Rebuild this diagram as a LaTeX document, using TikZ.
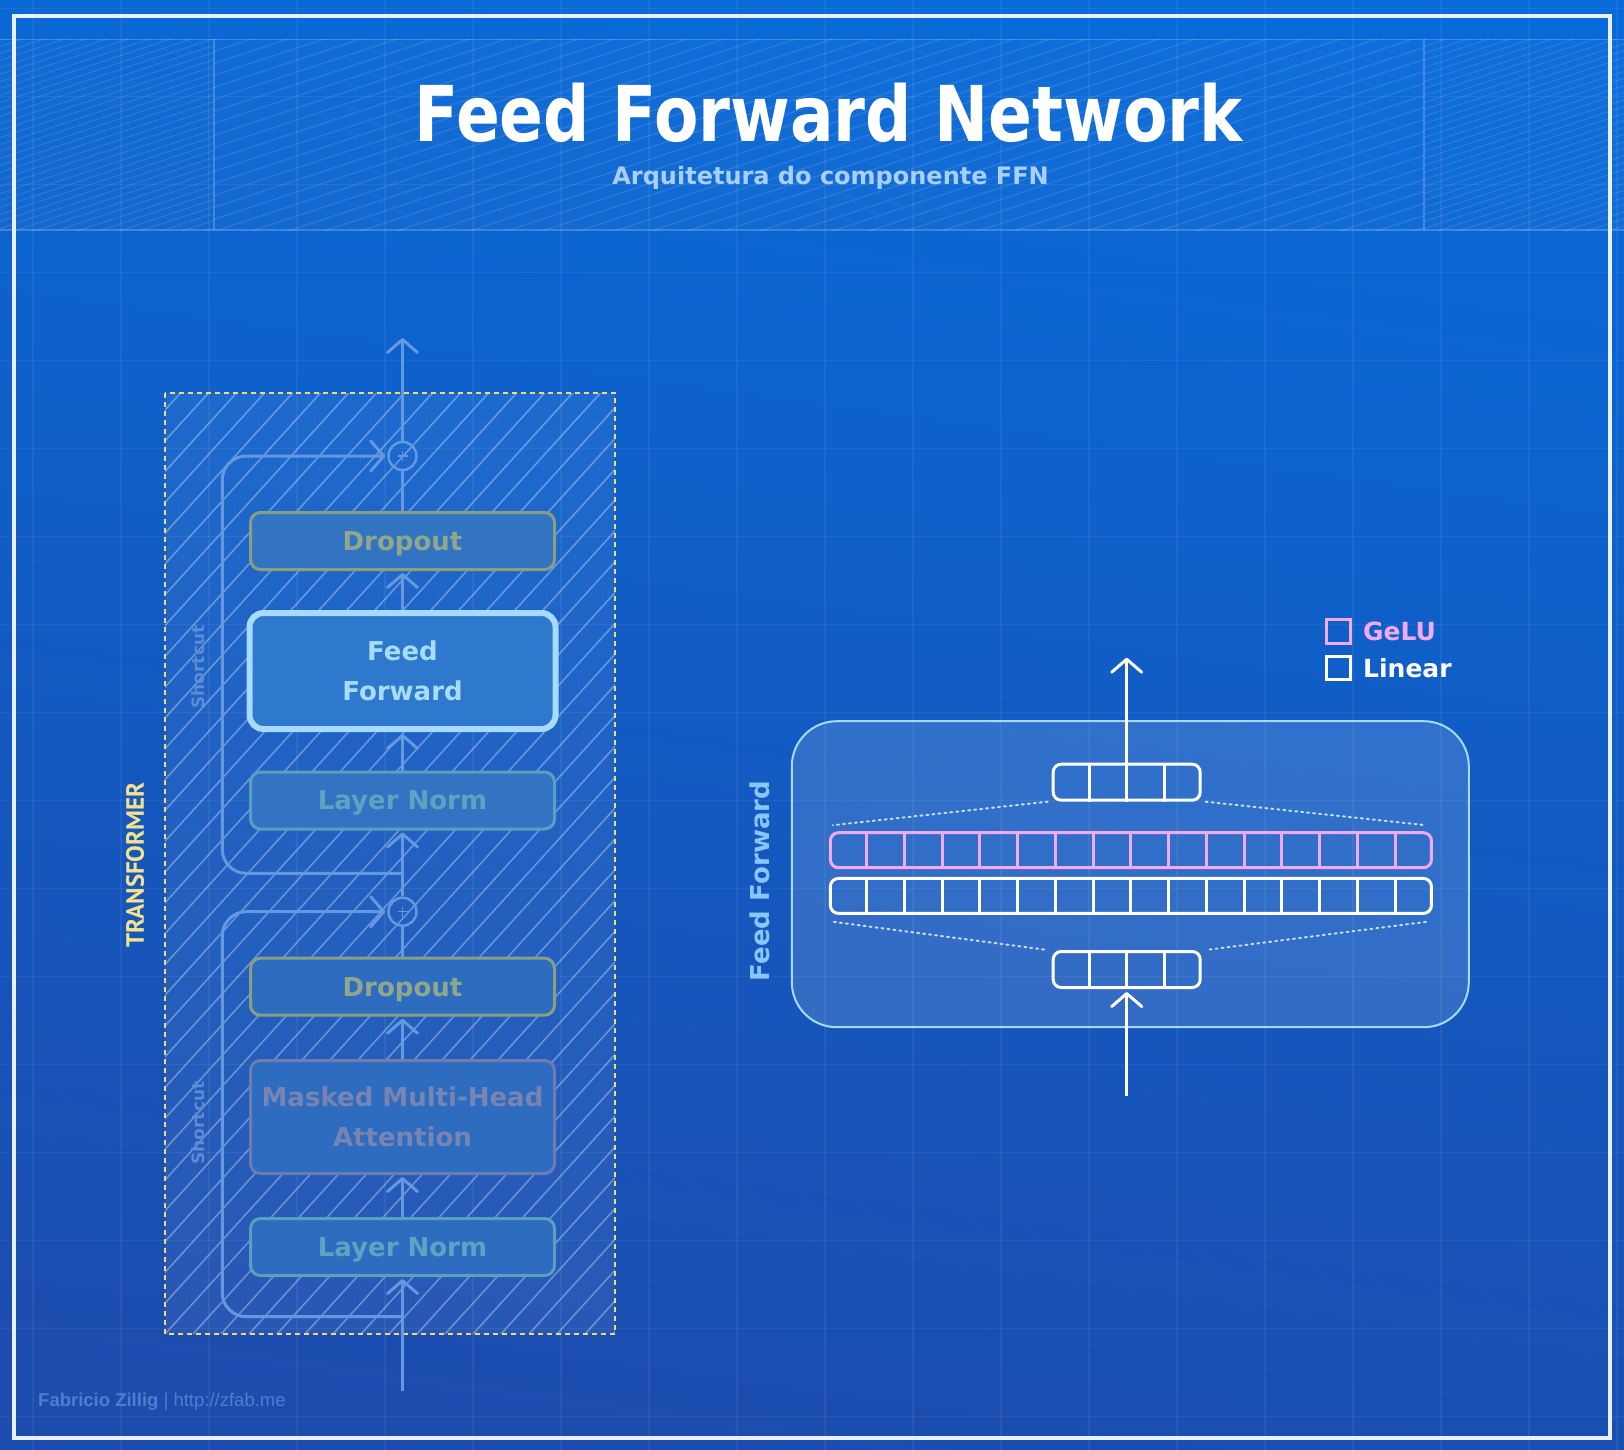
\documentclass[tikz,border=0pt]{standalone}
\usepackage{fontspec}
\usepackage{graphicx}
\usetikzlibrary{arrows.meta,calc}
\setmainfont{DejaVu Sans}
\newfontfamily\handfont{PT Sans}
\newfontfamily\signfont{Liberation Sans}

\definecolor{bgtop}{RGB}{8,106,216}
\definecolor{bgbot}{RGB}{28,76,174}
\definecolor{framecol}{RGB}{232,240,250}
\definecolor{tfyellow}{RGB}{242,220,110}
\definecolor{tflabel}{RGB}{245,224,140}
\definecolor{flowcol}{RGB}{100,152,224}
\definecolor{olivedraw}{RGB}{138,158,128}
\definecolor{olivetext}{RGB}{143,168,140}
\definecolor{tealdraw}{RGB}{90,158,192}
\definecolor{tealtext}{RGB}{95,163,194}
\definecolor{slatedraw}{RGB}{110,125,176}
\definecolor{slatetext}{RGB}{120,132,178}
\definecolor{skyblue}{RGB}{166,218,255}
\definecolor{fftext}{RGB}{168,220,255}
\definecolor{subblue}{RGB}{168,208,255}
\definecolor{labblue}{RGB}{136,198,255}
\definecolor{gelupink}{RGB}{242,170,245}
\definecolor{dotblue}{RGB}{200,222,255}
\definecolor{shortcol}{RGB}{92,140,214}
\definecolor{signcol}{RGB}{80,125,205}
\definecolor{fillup}{RGB}{50,116,194}
\definecolor{fillff}{RGB}{46,120,205}
\definecolor{filllow}{RGB}{46,108,192}

\tikzset{
  gridline/.style={draw=white, draw opacity=0.06, line width=1.5pt},
  headline/.style={draw=white, draw opacity=0.2, line width=1.5pt},
  hatchfine/.style={draw=white, draw opacity=0.11, line width=1.1pt},
  hatchwide/.style={draw=white, draw opacity=0.10, line width=1.4pt},
  hatchtf/.style={draw=white, draw opacity=0.33, line width=1.6pt},
  flowline/.style={draw=flowcol, line width=3pt},
  flowarrow/.style={flowline, -{Straight Barb[length=13pt,width=30pt,round]}, shorten >=2pt},
  layer/.style={draw, rounded corners=10pt, line width=3pt, minimum width=304pt,
    minimum height=57pt, inner sep=0pt, align=center, text depth=0pt,
    font=\fontsize{26}{40}\selectfont\bfseries},
  addnode/.style={circle, draw=flowcol, line width=2.5pt, minimum size=28pt, inner sep=0pt},
  vecbox/.style={draw=white, line width=3pt, rounded corners=8pt, minimum width=147pt,
    minimum height=36pt, inner sep=0pt},
  rowbox/.style={line width=3pt, rounded corners=8pt, minimum width=601pt,
    minimum height=35pt, inner sep=0pt},
  whitearrow/.style={draw=white, line width=3pt, -{Straight Barb[length=13pt,width=30pt,round]}},
  dotline/.style={draw=dotblue, line width=2pt, dash pattern=on 2pt off 4pt, line cap=round},
  legsq/.style={rectangle, line width=3pt, minimum size=23.5pt, inner sep=0pt},
  legtext/.style={anchor=west, inner sep=0pt, font=\fontsize{25}{28}\selectfont\bfseries},
  sidelabel/.style={rotate=90, inner sep=0pt},
}

\begin{document}
\begin{tikzpicture}[x=1pt, y=-1pt]
\useasboundingbox (0,0) rectangle (1624,1450);

% background and grid
\shade[top color=bgtop, bottom color=bgbot, shading angle=-8] (0,0) rectangle (1624,1450);
\foreach \i in {0,...,18} \draw[gridline] (33+88*\i,0) -- (33+88*\i,1450);
\foreach \j in {0,...,16} \draw[gridline] (0,8.7+88*\j) -- (1624,8.7+88*\j);

% header band
\fill[white, fill opacity=0.03] (0,39.5) rectangle (1624,230);
\begin{scope}
  \clip (0,39.5) rectangle (214,230);
  \foreach \i in {0,...,38} \draw[hatchfine] (0,39.5+\i*7) -- ++(214,-71);
\end{scope}
\begin{scope}
  \clip (1424,39.5) rectangle (1624,230);
  \foreach \i in {0,...,38} \draw[hatchfine] (1424,39.5+\i*7) -- ++(200,-66);
\end{scope}
\begin{scope}
  \clip (214,39.5) rectangle (1424,230);
  \foreach \i in {0,...,50} \draw[hatchwide] (214,39.5+\i*12) -- ++(1210,-400);
\end{scope}
\draw[headline] (0,39.5) -- (1624,39.5);
\draw[headline] (0,230) -- (1624,230);
\draw[headline] (214,39.5) -- (214,230);
\draw[headline] (1424,39.5) -- (1424,230);

% outer frame
\draw[framecol, line width=3.5pt] (14,16) rectangle (1610,1438);

% title block
\node[anchor=base, inner sep=0pt, text=white, font=\fontsize{77}{80}\selectfont\bfseries]
  (title) at (828.5,142) {\scalebox{0.84}[1]{Feed Forward Network}};
\node[anchor=base, inner sep=0pt, text=subblue, font=\fontsize{24}{28}\selectfont\bfseries]
  (subtitle) at (830.6,185) {Arquitetura do componente FFN};

% transformer block: tinted, hatched area with dashed border
\fill[white, fill opacity=0.06] (165,393) rectangle (615,1334);
\begin{scope}
  \clip (165,393) rectangle (615,1334);
  \foreach \i in {-31,...,16} \draw[hatchtf] (165+\i*28,1334) -- ++(900,-990);
\end{scope}
\draw[tfyellow, line width=2pt, dash pattern=on 5pt off 4pt] (165,393) rectangle (615,1334);
\node[sidelabel, text=tflabel, font=\handfont\fontsize{25}{28}\selectfont\bfseries] (tflab) at (135,865) {TRANSFORMER};

% layers
\node[layer, draw=tealdraw, fill=filllow, text=tealtext] (ln1) at (402.5,1247) {Layer Norm};
\node[layer, draw=slatedraw, fill=filllow, text=slatetext, minimum height=113pt] (mha) at (402.5,1117) {Masked Multi-Head\\Attention};
\node[layer, draw=olivedraw, fill=filllow, text=olivetext] (drop1) at (402.5,986.7) {Dropout};
\node[addnode] (add1) at (402.5,911.7) {};
\node[layer, draw=tealdraw, fill=fillup, text=tealtext] (ln2) at (402.5,800.5) {Layer Norm};
\node[layer, draw=skyblue, fill=fillff, text=fftext, line width=6pt, rounded corners=14pt,
  minimum width=306pt, minimum height=116pt] (ff) at (402.5,671) {Feed\\Forward};
\node[layer, draw=olivedraw, fill=fillup, text=olivetext] (drop2) at (402.5,541) {Dropout};
\node[addnode] (add2) at (402.5,456) {};

\foreach \a in {add1,add2} {
  \draw[flowcol, line width=1.5pt] ([xshift=-5pt]\a.center) -- ([xshift=5pt]\a.center);
  \draw[flowcol, line width=1.5pt] ([yshift=-5pt]\a.center) -- ([yshift=5pt]\a.center);
}

% main path through the block
\coordinate (inpt) at (402.5,1391);
\coordinate (outpt) at (402.5,336);
\coordinate (sc1) at (402.5,1316.7);
\coordinate (sc2) at (402.5,873.3);
\draw[flowarrow] (inpt) -- (ln1.south);
\draw[flowarrow] (ln1.north) -- (mha.south);
\draw[flowarrow] (mha.north) -- (drop1.south);
\draw[flowline] (drop1.north) -- (add1.south);
\draw[flowarrow] (add1.north) -- (ln2.south);
\draw[flowarrow] (ln2.north) -- (ff.south);
\draw[flowarrow] (ff.north) -- (drop2.south);
\draw[flowline] (drop2.north) -- (add2.south);
\draw[flowarrow] (add2.north) -- (outpt);

% residual shortcuts
\draw[flowarrow, rounded corners=24pt] (sc1) -| ([xshift=-165pt]add1.west) -- (add1.west);
\draw[flowarrow, rounded corners=24pt] (sc2) -| ([xshift=-165pt]add2.west) -- (add2.west);
\node[sidelabel, text=shortcol, font=\fontsize{17}{20}\selectfont\bfseries] (sclab1) at (198,1123) {Shortcut};
\node[sidelabel, text=shortcol, font=\fontsize{17}{20}\selectfont\bfseries] (sclab2) at (198,667) {Shortcut};

% feed forward detail panel
\node[draw=skyblue, line width=2pt, rounded corners=45pt, fill=white, fill opacity=0.13,
  minimum width=677pt, minimum height=306pt, inner sep=0pt] (panel) at (1130.3,874.2) {};
\node[sidelabel, text=labblue, font=\fontsize{26}{30}\selectfont\bfseries] (fflab) at (760,881) {Feed Forward};

\node[vecbox] (vout) at (1126.7,782.2) {};
\node[vecbox] (vin) at (1126.7,969.5) {};
\node[rowbox, draw=gelupink] (gelu) at (1130.9,850.2) {};
\node[rowbox, draw=white] (lin) at (1130.9,895.9) {};
\foreach \k in {1,2,3} {
  \draw[white, line width=3pt] ($(vout.north west)!\k/4!(vout.north east)$) -- ($(vout.south west)!\k/4!(vout.south east)$);
  \draw[white, line width=3pt] ($(vin.north west)!\k/4!(vin.north east)$) -- ($(vin.south west)!\k/4!(vin.south east)$);
}
\foreach \k in {1,...,15} {
  \draw[gelupink, line width=3pt] ($(gelu.north west)!\k/16!(gelu.north east)$) -- ($(gelu.south west)!\k/16!(gelu.south east)$);
  \draw[white, line width=3pt] ($(lin.north west)!\k/16!(lin.north east)$) -- ($(lin.south west)!\k/16!(lin.south east)$);
}

% projection guides
\draw[dotline] ([xshift=-4pt]vout.south west) -- ([xshift=4pt,yshift=6pt]gelu.north west);
\draw[dotline] ([xshift=4pt]vout.south east) -- ([xshift=-7pt,yshift=6pt]gelu.north east);
\draw[dotline] ([xshift=5pt,yshift=-7pt]lin.south west) -- ([xshift=-4pt]vin.north west);
\draw[dotline] ([xshift=-7pt,yshift=-7pt]lin.south east) -- ([xshift=4pt]vin.north east);

% input and output
\coordinate (ffin) at (1126.7,1096);
\coordinate (ffout) at (1126.7,657.7);
\draw[whitearrow] (vout.north) -- (ffout);
\draw[whitearrow, shorten >=3pt] (ffin) -- (vin.south);

% legend
\node[legsq, draw=gelupink] (lgsq1) at (1338.3,631.3) {};
\node[legsq, draw=white] (lgsq2) at (1338.3,668) {};
\node[legtext, text=gelupink] (lgt1) at (1363,631.5) {GeLU};
\node[legtext, text=white] (lgt2) at (1363,668) {Linear};

% signature
\node[anchor=west, inner sep=0pt, text=signcol, font=\signfont\fontsize{18.5}{20}\selectfont]
  (sign) at (38,1402) {\textbf{Fabricio Zillig} | http://zfab.me};
\end{tikzpicture}
\end{document}
